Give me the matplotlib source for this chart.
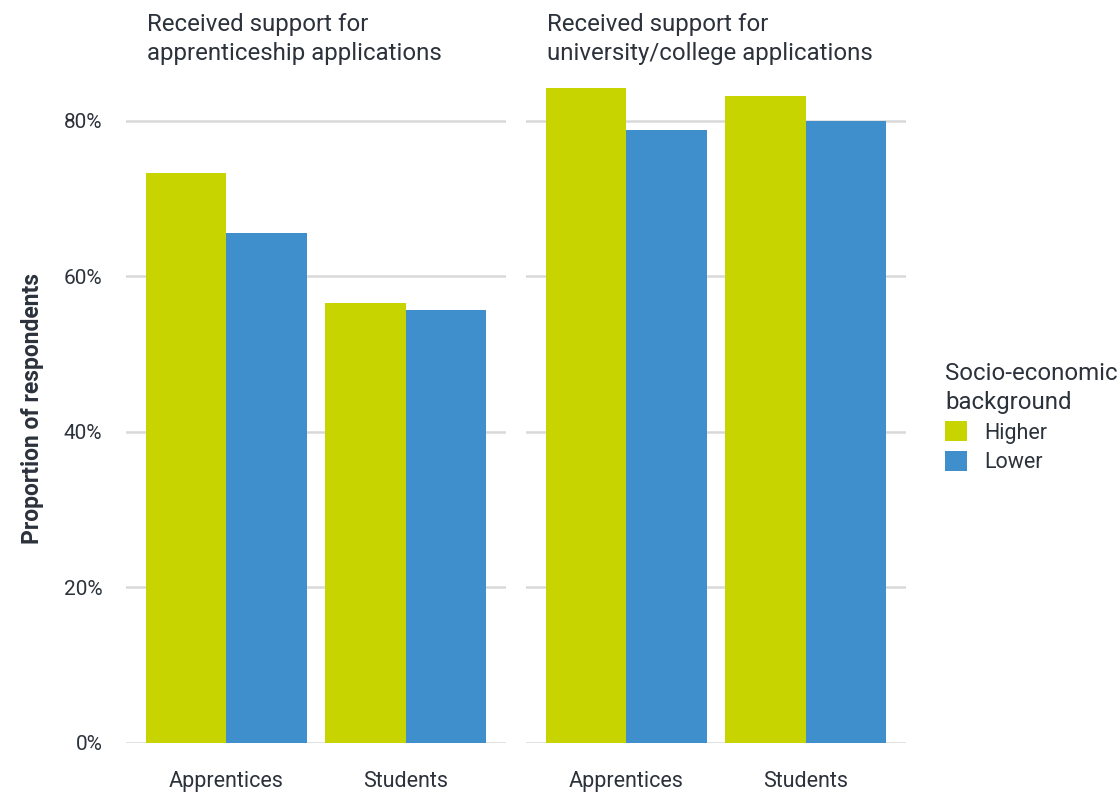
import matplotlib.pyplot as plt
import numpy as np

plt.rcParams['font.family'] = ['Roboto', 'DejaVu Sans']

# data
groups = ["Apprentices", "Students"]
panels = ["Received support for\napprenticeship applications",
          "Received support for\nuniversity/college applications"]
higher = [[73.3, 56.6], [84.2, 83.2]]
lower = [[65.6, 55.7], [78.8, 79.9]]
series = ["Higher", "Lower"]
yticks = [0, 20, 40, 60, 80]

col_higher = "#c8d400"
col_lower = "#3f8fcc"
text_col = "#2b323b"
grid_col = "#d9d9d9"

W, H = 1119, 792
fig = plt.figure(figsize=(W / 100, H / 100), dpi=100)

bottom = (H - 743) / H
top = (H - 74) / H
lefts = [126, 526]
width = 380

x = np.arange(len(groups))
bw = 0.45
for i, left in enumerate(lefts):
    ax = fig.add_axes([left / W, bottom, width / W, top - bottom])
    ax.bar(x - bw / 2, higher[i], width=bw, color=col_higher, zorder=2,
           label=series[0])
    ax.bar(x + bw / 2, lower[i], width=bw, color=col_lower, zorder=2,
           label=series[1])
    ax.set_xlim(-0.56, 1.56)
    ax.set_ylim(0, 86)
    for yt in yticks:
        ax.axhline(yt, color=grid_col, linewidth=1.8, zorder=1)
    ax.set_yticks(yticks)
    if i == 0:
        ax.set_yticklabels([f"{v}%" for v in yticks], fontsize=15, color=text_col)
        ax.set_ylabel("Proportion of respondents", fontsize=16.5,
                      fontweight="bold", color=text_col, labelpad=14)
    else:
        ax.set_yticklabels([])
    ax.set_xticks(x)
    ax.set_xticklabels(groups, fontsize=15.5, color=text_col)
    ax.tick_params(axis="x", length=0, pad=20)
    ax.tick_params(axis="y", length=0, pad=17)
    for s in ax.spines.values():
        s.set_visible(False)
    fig.text((left + 21) / W, 1 - 13 / H, panels[i], fontsize=17.3,
             color=text_col, va="top", ha="left", linespacing=1.32)

handles, labels = ax.get_legend_handles_labels()
leg = fig.legend(handles, labels, loc="upper left",
                 bbox_to_anchor=(945 / W, 1 - 362 / H),
                 frameon=False, fontsize=15.5, borderpad=0, borderaxespad=0,
                 title="Socio-economic\nbackground", title_fontsize=17.3,
                 alignment="left", handlelength=1.0, handleheight=1.05,
                 handletextpad=0.8, labelspacing=0.35)
for t in leg.get_texts():
    t.set_color(text_col)
leg.get_title().set_color(text_col)
leg.get_title().set_linespacing(1.32)

fig.savefig("out.png", dpi=100)
